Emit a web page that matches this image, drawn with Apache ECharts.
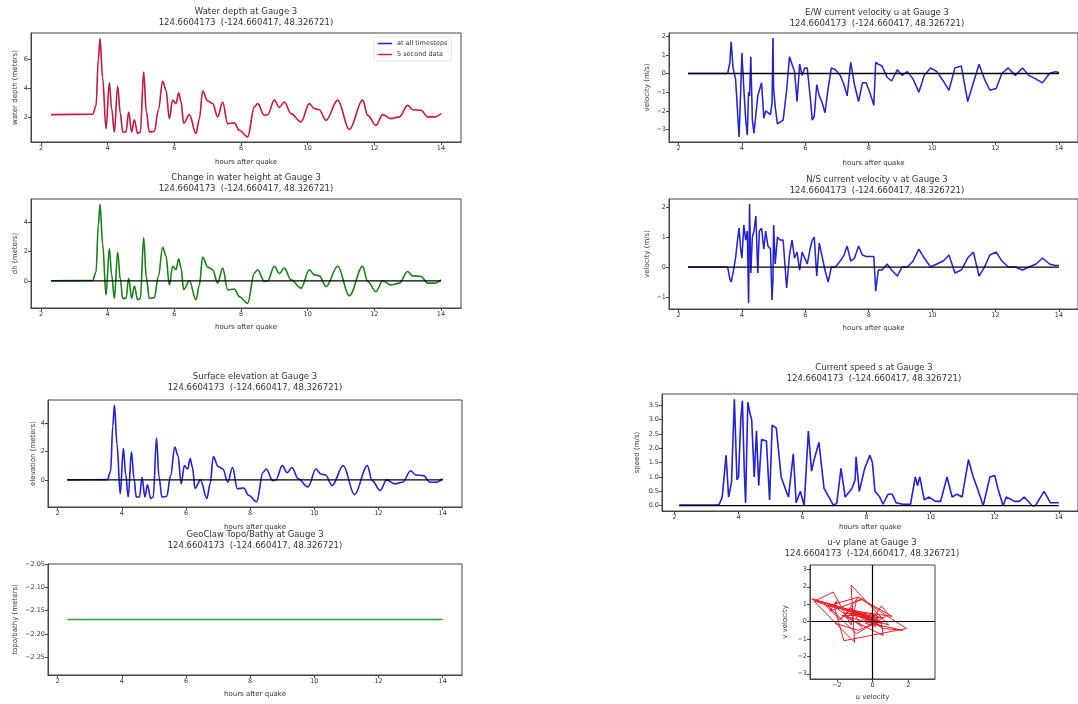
<!DOCTYPE html>
<html>
<head>
<meta charset="utf-8">
<script src="https://cdn.jsdelivr.net/npm/echarts@6/dist/echarts.min.js"></script>
<style>
  html, body { margin: 0; padding: 0; background: #fff; }
  #chart { width: 1078px; height: 704px; }
</style>
</head>
<body>
<div id="chart"></div>
<script>
// ---- data ----
// times (hours after quake) for the surface / depth series
const etaTimes = [
  2.3, 3.55, 3.65, 3.72, 3.77, 3.85, 3.95, 4.05, 4.12, 4.2,
  4.3, 4.38, 4.45, 4.55, 4.63, 4.72, 4.8, 4.9, 4.98, 5.08,
  5.16, 5.25, 5.4, 5.52, 5.65, 5.75, 5.85, 5.95, 6.05, 6.13,
  6.2, 6.28, 6.45, 6.65, 6.75, 6.85, 7.0, 7.15, 7.3, 7.45,
  7.6, 7.8, 7.95, 8.2, 8.4, 8.5, 8.7, 8.8, 9.0, 9.15,
  9.3, 9.5, 9.8, 10.05, 10.2, 10.35, 10.55, 10.9, 11.25, 11.65,
  11.8, 12.05, 12.25, 12.5, 12.75, 13.0, 13.15, 13.4, 13.6, 13.8,
  14.0
];
// water depth (m)
const depthVals = [
  2.17, 2.19, 2.77, 5.97, 7.41, 4.67, 1.20, 4.37, 2.57, 0.97,
  4.12, 2.27, 0.97, 0.97, 2.35, 0.97, 1.82, 0.87, 0.97, 5.11,
  2.37, 0.97, 1.02, 2.47, 4.47, 3.87, 1.89, 3.17, 2.93, 3.67,
  3.07, 1.57, 2.17, 0.87, 1.87, 3.80, 3.11, 2.93, 2.01, 3.04,
  1.55, 1.60, 1.09, 0.63, 2.70, 2.93, 2.12, 2.17, 3.17, 2.67,
  3.04, 2.24, 1.67, 2.93, 2.58, 2.51, 1.77, 3.17, 1.14, 3.17,
  2.12, 1.43, 2.17, 1.89, 2.01, 2.81, 2.51, 2.47, 2.01, 2.01,
  2.24
];
// surface elevation / change in water height (m) - both panels show the same curve
const etaVals = [
  0, 0.02, 0.6, 3.8, 5.24, 2.5, -0.97, 2.2, 0.4, -1.2,
  1.95, 0.1, -1.2, -1.2, 0.18, -1.2, -0.35, -1.3, -1.2, 2.94,
  0.2, -1.2, -1.15, 0.3, 2.3, 1.7, -0.28, 1.0, 0.76, 1.5,
  0.9, -0.6, 0.0, -1.3, -0.3, 1.63, 0.94, 0.76, -0.16, 0.87,
  -0.62, -0.57, -1.08, -1.54, 0.53, 0.76, -0.05, 0.0, 1.0, 0.5,
  0.87, 0.07, -0.5, 0.76, 0.41, 0.34, -0.4, 1.0, -1.03, 1.0,
  -0.05, -0.74, 0.0, -0.28, -0.16, 0.64, 0.34, 0.3, -0.16, -0.16,
  0.07
];
const topoTimes = [2.3, 14.0];
const topoVals = [-2.169, -2.169];
const zeroTimes = [2.3, 14.0];
const zeroVals = [0, 0];

// velocity times (hours) shared by u and v
const velTimes = [
  2.3, 3.55, 3.62, 3.66, 3.72, 3.8, 3.86, 3.91, 3.96, 4.0,
  4.06, 4.12, 4.17, 4.21, 4.24, 4.28, 4.33, 4.38, 4.44, 4.5,
  4.55, 4.62, 4.69, 4.75, 4.82, 4.9, 4.95, 4.98, 5.0, 5.05,
  5.12, 5.2, 5.3, 5.41, 5.5, 5.58, 5.66, 5.74, 5.82, 5.9,
  5.98, 6.06, 6.15, 6.22, 6.28, 6.36, 6.44, 6.52, 6.62, 6.72,
  6.82, 6.95, 7.1, 7.22, 7.32, 7.43, 7.55, 7.68, 7.8, 7.92,
  8.05, 8.16, 8.22, 8.3, 8.42, 8.58, 8.72, 8.9, 9.05, 9.22,
  9.4, 9.58, 9.75, 9.95, 10.15, 10.35, 10.53, 10.72, 10.92, 11.12,
  11.3, 11.48, 11.65, 11.82, 12.02, 12.2, 12.4, 12.62, 12.85, 13.05,
  13.28, 13.48, 13.7, 13.88, 14.0
];
// E/W velocity u (m/s)
const uVals = [
  0, 0, 0.6, 1.7, 0.3, -0.3, -2.0, -3.4, -1.0, 1.1,
  -0.8, -2.5, -3.3, -1.0, -1.2, 0.9, -2.5, -3.2, -2.2, -1.2,
  -0.9, -0.5, -2.4, -2.0, -2.1, -2.2, -1.6, 1.9, -0.8, -1.8,
  -2.7, -2.6, -2.5, -0.9, 0.9, 0.5, 0.1, -1.5, 0.5, -0.1,
  0.3, 0.3, -1.2, -2.5, -2.3, -0.6, -1.2, -1.5, -2.1, -0.8,
  0.3, 0.2, -0.1, -0.6, -1.2, 0.6, -0.6, -1.5, -0.5, -0.5,
  -1.1, -1.7, 0.6, 0.5, 0.4, -0.2, -0.4, 0.2, -0.1, 0.1,
  -0.3, -1.0, -0.1, 0.3, 0.1, -0.4, -0.9, 0.3, 0.4, -1.5,
  -0.5, 0.5, -0.3, -0.9, -0.8, 0.0, 0.3, -0.1, 0.3, -0.1,
  -0.3, -0.5, 0.0, 0.1, 0.05
];
// N/S velocity v (m/s)
const vVals = [
  0, 0, -0.4, -0.5, -0.2, 0.3, 0.9, 1.3, 0.6, 0.3,
  1.4, 0.9, 1.2, -1.2, 2.1, -0.2, 1.0, 1.2, 1.7, -0.2,
  1.2, 1.3, 0.6, 1.2, 0.7, 0.6, -1.1, -0.4, 1.4, 0.1,
  1.0, 0.9, 0.9, -0.7, 0.4, 0.9, 0.3, 0.5, -0.1, 0.5,
  0.3, 0.1, 0.6, 0.9, 1.0, -0.3, 0.8, 0.4, -0.1, -0.5,
  0.0, 0.0, 0.2, 0.4, 0.7, 0.2, 0.3, 0.7, 0.4, 0.35,
  0.35, 0.35, -0.8, -0.1, -0.1, 0.1, -0.1, -0.3, 0.0, 0.0,
  0.2, 0.6, 0.3, 0.0, 0.1, 0.2, 0.4, -0.2, -0.1, 0.3,
  0.5, -0.3, 0.0, 0.4, 0.5, 0.2, 0.0, 0.0, -0.1, 0.0,
  0.1, 0.3, 0.1, 0.05, 0.05
];

// current speed s (m/s)
const speedTimes = [
  2.15, 3.28, 3.4, 3.49, 3.61, 3.69, 3.78, 3.87, 3.95, 4.0,
  4.07, 4.12, 4.18, 4.22, 4.29, 4.36, 4.41, 4.49, 4.56, 4.63,
  4.72, 4.87, 4.97, 5.05, 5.18, 5.33, 5.49, 5.56, 5.71, 5.8,
  5.93, 6.05, 6.18, 6.28, 6.36, 6.51, 6.67, 6.87, 6.97, 7.07,
  7.2, 7.33, 7.54, 7.64, 7.67, 7.77, 7.94, 8.1, 8.18, 8.26,
  8.41, 8.51, 8.67, 8.8, 8.92, 9.12, 9.37, 9.52, 9.59, 9.66,
  9.8, 9.95, 10.15, 10.31, 10.51, 10.67, 10.82, 10.98, 11.18, 11.33,
  11.49, 11.64, 11.85, 12.0, 12.1, 12.26, 12.36, 12.62, 12.77, 12.92,
  13.17, 13.27, 13.54, 13.74, 14.0
];
const speedVals = [
  0.02, 0.02, 0.05, 0.3, 1.75, 0.3, 0.8, 3.7, 0.9, 1.0,
  3.0, 3.65, 1.2, 0.1, 3.6, 3.2, 3.0, 1.0, 2.6, 0.7,
  2.3, 2.25, 0.2, 2.8, 2.7, 1.0, 0.5, 0.3, 1.8, 0.1,
  0.5, 0.0, 2.6, 1.2, 1.6, 2.2, 0.6, 0.2, 0.0, 0.1,
  1.3, 0.3, 0.6, 0.9, 1.7, 0.5, 1.3, 1.75, 1.5, 0.5,
  0.3, 0.05, 0.4, 0.4, 0.1, 0.05, 0.05, 1.0, 0.7, 1.0,
  0.2, 0.3, 0.15, 0.15, 1.0, 0.3, 0.4, 0.3, 1.6, 1.0,
  0.5, 0.0, 1.0, 1.05, 0.6, 0.0, 0.3, 0.15, 0.15, 0.3,
  0.0, 0.0, 0.5, 0.1, 0.1
];
const speedZeroTimes = [2.15, 14.0];

// tick labels
const hourTicks = [2, 4, 6, 8, 10, 12, 14];
const depthTicks = [2, 4, 6];
const etaTicks = [0, 2, 4];
const topoTicks = [-2.25, -2.2, -2.15, -2.1, -2.05];
const uTicks = [-3, -2, -1, 0, 1, 2];
const vTicks = [-1, 0, 1, 2];
const speedTicks = [0, 0.5, 1, 1.5, 2, 2.5, 3, 3.5];
const uvXTicks = [-2, 0, 2];
const uvYTicks = [-3, -2, -1, 0, 1, 2, 3];

const place = '124.6604173  (-124.660417, 48.326721)';

// ---- chart ----
const FONT = 'DejaVu Sans';
const TXT = '#333';
const AX = '#444';
const pairs = (xs, ys) => xs.map((x, i) => [x, ys[i]]);
const fmt = d => v => (d == null ? String(v) : v.toFixed(d)).replace('-', '\u2212');

// one grid per panel (pixel boxes)
const grids = [
  { left: 31, top: 33, width: 430, height: 109 },   // water depth
  { left: 31, top: 199, width: 430, height: 109 },  // dh
  { left: 48, top: 400, width: 414, height: 107 },  // surface elevation
  { left: 48, top: 564, width: 414, height: 111 },  // topo
  { left: 669, top: 33, width: 417, height: 109 },  // u
  { left: 669, top: 199, width: 417, height: 110 }, // v
  { left: 662, top: 394, width: 424, height: 117 }, // speed
  { left: 810, top: 565, width: 125, height: 114 }  // u-v plane
].map(g => Object.assign(g, { show: true, borderColor: AX, borderWidth: 1 }));

function axis(gi, min, max, ticks, name, nameGap, digits) {
  return {
    type: 'value', gridIndex: gi, min, max,
    name, nameLocation: 'middle', nameGap,
    nameTextStyle: { fontFamily: FONT, fontSize: 7, color: TXT },
    axisLine: { show: true, onZero: false, lineStyle: { color: AX, width: 1 } },
    axisTick: { show: true, length: 3, lineStyle: { color: AX }, customValues: ticks },
    axisLabel: { fontFamily: FONT, fontSize: 6.5, color: TXT, margin: 3, customValues: ticks, formatter: fmt(digits) },
    splitLine: { show: false }
  };
}

const hx = (gi, min, gap) => axis(gi, min, 14.6, hourTicks, 'hours after quake', gap);

const xAxes = [
  hx(0, 1.7, 16.5), hx(1, 1.7, 15.5), hx(2, 1.7, 16.5), hx(3, 1.7, 15.5),
  hx(4, 1.7, 18), hx(5, 1.7, 15.5), hx(6, 1.61, 12.5),
  axis(7, -3.5, 3.5, uvXTicks, 'u velocity', 14.5)
];
const yAxes = [
  axis(0, 0.28, 7.8, depthTicks, 'water depth (meters)', 12.5),
  axis(1, -1.86, 5.6, etaTicks, 'dh (meters)', 12.5),
  axis(2, -1.9, 5.6, etaTicks, 'elevation (meters)', 11.5),
  axis(3, -2.288, -2.05, topoTicks, 'topo/bathy (meters)', 29.5, 2),
  axis(4, -3.67, 2.17, uTicks, 'velocity (m/s)', 18.5),
  axis(5, -1.4, 2.27, vTicks, 'velocity (m/s)', 18.5),
  axis(6, -0.185, 3.885, speedTicks, 'speed (m/s)', 21.5, 1),
  axis(7, -3.3, 3.25, uvYTicks, 'v velocity', 21.5)
];

function title(text, x, top) {
  return {
    text, left: x, top, textAlign: 'center', padding: 0,
    textStyle: { fontFamily: FONT, fontSize: 8.5, fontWeight: 'normal', color: TXT, lineHeight: 10.5 }
  };
}
const titles = [
  title('Water depth at Gauge 3\n' + place, 246, 7),
  title('Change in water height at Gauge 3\n' + place, 246, 173),
  title('Surface elevation at Gauge 3\n' + place, 255, 372),
  title('GeoClaw Topo/Bathy at Gauge 3\n' + place, 255, 530),
  title('E/W current velocity u at Gauge 3\n' + place, 877, 8),
  title('N/S current velocity v at Gauge 3\n' + place, 877, 175),
  title('Current speed s at Gauge 3\n' + place, 874, 363),
  title('u-v plane at Gauge 3\n' + place, 872, 538)
];

function line(gi, data, color, width, extra) {
  return Object.assign({
    type: 'line', xAxisIndex: gi, yAxisIndex: gi, data, color,
    showSymbol: false, symbol: 'none', silent: true,
    lineStyle: { color, width }
  }, extra || {});
}
const smoothOpt = { smooth: 0.35, smoothMonotone: 'x' };
const zeroLine = (gi, ts) => line(gi, pairs(ts, zeroVals), '#000', 1.3, { z: 5 });
// thin dark core drawn over each coloured trace
const core = (gi, data, color, smooth) => line(gi, data, color, 0.5,
  Object.assign({ z: 3, lineStyle: { color, width: 0.5, opacity: 0.55 } }, smooth ? smoothOpt : {}));

const series = [
  // water depth
  line(0, pairs(etaTimes, depthVals), '#f01c28', 1.6, Object.assign({ name: '5 second data', z: 2 }, smoothOpt)),
  Object.assign(core(0, pairs(etaTimes, depthVals), '#1a1aa0', true), { name: 'at all timesteps' }),
  // change in water height
  line(1, pairs(etaTimes, etaVals), '#1f9a1f', 1.6, Object.assign({ z: 2 }, smoothOpt)),
  core(1, pairs(etaTimes, etaVals), '#102010', true),
  zeroLine(1, zeroTimes),
  // surface elevation
  line(2, pairs(etaTimes, etaVals), '#2a2aff', 1.6, Object.assign({ z: 2 }, smoothOpt)),
  core(2, pairs(etaTimes, etaVals), '#10104a', true),
  zeroLine(2, zeroTimes),
  // topo
  line(3, pairs(topoTimes, topoVals), '#2e9e2e', 1.5),
  // u
  line(4, pairs(velTimes, uVals), '#2a2aff', 1.5, { z: 2 }),
  core(4, pairs(velTimes, uVals), '#10104a'),
  zeroLine(4, zeroTimes),
  // v
  line(5, pairs(velTimes, vVals), '#2a2aff', 1.5, { z: 2 }),
  core(5, pairs(velTimes, vVals), '#10104a'),
  zeroLine(5, zeroTimes),
  // speed
  line(6, pairs(speedTimes, speedVals), '#2a2aff', 1.6, { z: 2 }),
  core(6, pairs(speedTimes, speedVals), '#10104a'),
  zeroLine(6, speedZeroTimes),
  // u-v plane
  line(7, pairs(uVals, vVals), '#f01c28', 1.0, {
    markLine: {
      symbol: 'none', silent: true, label: { show: false },
      lineStyle: { color: '#000', width: 1.2, type: 'solid' },
      data: [{ xAxis: 0 }, { yAxis: 0 }]
    }
  })
];

const chart = echarts.init(document.getElementById('chart'));
chart.setOption({
  animation: false,
  backgroundColor: '#fff',
  title: titles,
  legend: {
    data: [
      { name: 'at all timesteps', itemStyle: { color: '#1a1aff' } },
      { name: '5 second data', itemStyle: { color: '#f01c28' } }
    ],
    orient: 'vertical', left: 374, top: 37,
    icon: 'rect', itemWidth: 14, itemHeight: 1.5, itemGap: 4,
    textStyle: { fontFamily: FONT, fontSize: 6.5, color: TXT },
    borderColor: '#d0d0d0', borderWidth: 0.6, borderRadius: 2, padding: [3, 4, 3, 4]
  },
  grid: grids,
  xAxis: xAxes,
  yAxis: yAxes,
  series
});
</script>
</body>
</html>
